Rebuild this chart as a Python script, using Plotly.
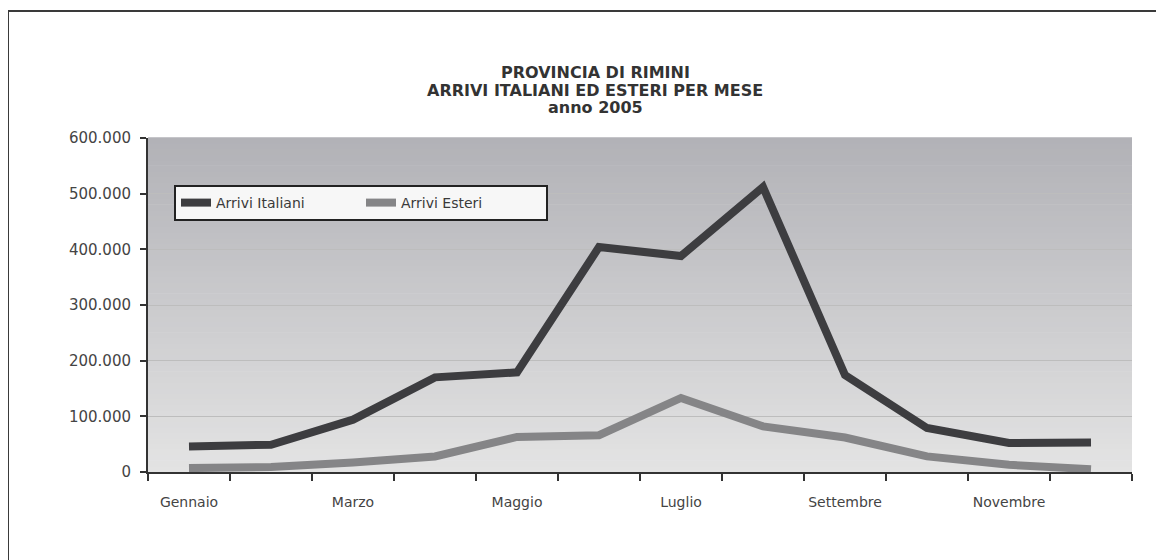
import plotly.graph_objects as go

months = ["Gennaio", "Febbraio", "Marzo", "Aprile", "Maggio", "Giugno",
          "Luglio", "Agosto", "Settembre", "Ottobre", "Novembre", "Dicembre"]
month_labels = ["Gennaio", "", "Marzo", "", "Maggio", "", "Luglio", "",
                "Settembre", "", "Novembre", ""]
arrivi_italiani = [46000, 49000, 94000, 170000, 179000, 404000,
                   388000, 512000, 174000, 79000, 52000, 53000]
arrivi_esteri = [7000, 9000, 17000, 28000, 63000, 66000,
                 133000, 82000, 62000, 28000, 13000, 5000]
y_ticks = [0, 100000, 200000, 300000, 400000, 500000, 600000]
y_tick_labels = ["0", "100.000", "200.000", "300.000", "400.000", "500.000", "600.000"]
title_lines = ["PROVINCIA DI RIMINI", "ARRIVI ITALIANI ED ESTERI PER MESE", "anno 2005"]

FONT = "DejaVu Sans, Arial, sans-serif"


def px_x(px):
    return (px - 148) / 984


def px_y(py):
    return (472 - py) / 334


fig = go.Figure()
fig.add_trace(go.Scatter(x=months, y=arrivi_italiani, mode="lines",
                         name="Arrivi Italiani",
                         line=dict(color="#3d3d40", width=8)))
fig.add_trace(go.Scatter(x=months, y=arrivi_esteri, mode="lines",
                         name="Arrivi Esteri",
                         line=dict(color="#858587", width=8)))

# gradient background bands in the plot area
shapes = []
n = 60
top = (178, 178, 183)
bot = (227, 227, 227)
for i in range(n):
    t = i / (n - 1)
    c = tuple(round(bot[k] + (top[k] - bot[k]) * t) for k in range(3))
    shapes.append(dict(type="rect", xref="x domain", yref="y domain",
                       x0=0, x1=1, y0=i / n, y1=(i + 1) / n + 0.002,
                       fillcolor="rgb(%d,%d,%d)" % c, line=dict(width=0),
                       layer="below"))
# outer frame
shapes.append(dict(type="line", xref="paper", yref="paper",
                   x0=px_x(8), x1=px_x(1175), y0=px_y(11), y1=px_y(11),
                   line=dict(color="#3a3a3a", width=2)))
shapes.append(dict(type="line", xref="paper", yref="paper",
                   x0=px_x(8), x1=px_x(8), y0=px_y(11), y1=px_y(575),
                   line=dict(color="#3a3a3a", width=2)))

annotations = []
for text, py in zip(title_lines, [72, 90, 107]):
    annotations.append(dict(text="<b>%s</b>" % text, xref="paper", yref="paper",
                            x=px_x(595), y=px_y(py), xanchor="center", yanchor="middle",
                            showarrow=False,
                            font=dict(family=FONT, size=16, color="#333333")))

fig.update_layout(
    width=1156, height=552,
    margin=dict(l=140, r=32, t=130, b=88),
    paper_bgcolor="white", plot_bgcolor="rgba(0,0,0,0)",
    font=dict(family=FONT, color="#3a3a3a", size=14),
    showlegend=True,
    legend=dict(orientation="h", x=px_x(174), y=px_y(185),
                xanchor="left", yanchor="top",
                bgcolor="#f7f7f7", bordercolor="#222222", borderwidth=2,
                font=dict(family=FONT, size=14, color="#3a3a3a"),
                entrywidth=140, itemwidth=30, tracegroupgap=0),
    shapes=shapes,
    annotations=annotations,
)
fig.update_xaxes(type="category", categoryorder="array", categoryarray=months,
                 tickmode="array", tickvals=months, ticktext=month_labels,
                 tickson="boundaries", ticks="outside", ticklen=7,
                 tickcolor="#333333", tickwidth=2, tickangle=0,
                 showline=True, linecolor="#333333", linewidth=2,
                 showgrid=False, ticklabelstandoff=16,
                 tickfont=dict(family=FONT, size=14, color="#444444"),
                 range=[-0.5, 11.5])
fig.update_yaxes(range=[0, 600000], tickmode="array", tickvals=y_ticks,
                 ticktext=y_tick_labels, ticks="outside", ticklen=6,
                 tickcolor="#333333", tickwidth=2,
                 showline=True, linecolor="#333333", linewidth=2,
                 showgrid=True, gridcolor="#bdbdbd", gridwidth=1,
                 zeroline=False, ticklabelstandoff=6,
                 tickfont=dict(family=FONT, size=15, color="#444444"))

fig.write_html("out.html")
